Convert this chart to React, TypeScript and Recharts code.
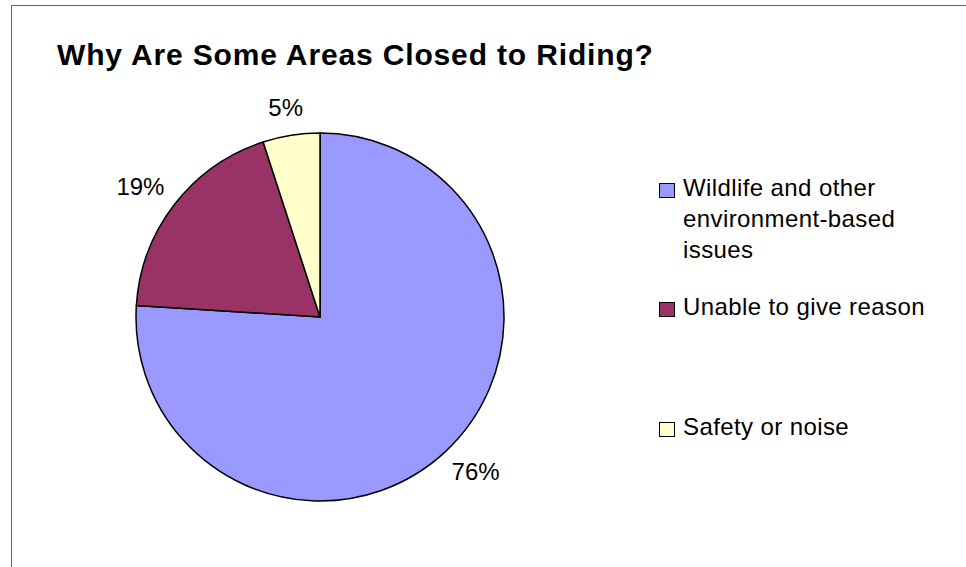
import React from 'react';
import { PieChart, Pie, Cell, Legend } from 'recharts';

// Reasons areas are closed to riding (share of answers, %)
const categories = ['Wildlife and other environment-based issues', 'Unable to give reason', 'Safety or noise'];
const shares = [76, 19, 5];
const sliceColors = ['#9999FF', '#993366', '#FFFFCC'];

const data = categories.map((name, i) => ({ name, value: shares[i] }));

const FONT = '"Liberation Sans", Arial, Helvetica, sans-serif';
const RAD = Math.PI / 180;

// percentage labels sit just outside the rim; the text box is pushed out so its inner edge clears the pie
const renderLabel = ({ cx, cy, midAngle, outerRadius, value }: any) => {
  const text = `${value}%`;
  const w = text.length * 15.5;
  const h = 17;
  const ux = Math.cos(-midAngle * RAD);
  const uy = Math.sin(-midAngle * RAD);
  const r = outerRadius + 20;
  const x = cx + r * ux + (w / 2) * ux;
  const y = cy + r * uy + (h / 2) * uy;
  return (
    <text
      x={x}
      y={y}
      textAnchor="middle"
      dominantBaseline="central"
      fill="#000"
      style={{ fontFamily: FONT, fontSize: 24 }}
    >
      {text}
    </text>
  );
};

const renderLegend = ({ payload }: any) => {
  const rowTops = [172, 291, 411];
  const items = [...(payload || [])].sort(
    (a: any, b: any) => categories.indexOf(a.value) - categories.indexOf(b.value)
  );
  return (
    <div style={{ position: 'relative', width: 290, height: 460 }}>
      {items.map((entry: any, i: number) => (
        <div
          key={entry.value}
          style={{ position: 'absolute', left: 0, top: rowTops[i], display: 'flex', alignItems: 'flex-start' }}
        >
          <div
            style={{
              width: 16,
              height: 15,
              marginTop: 11,
              boxSizing: 'border-box',
              border: '1.5px solid #000',
              background: entry.color,
            }}
          />
          <div
            style={{
              marginLeft: 8,
              width: 255,
              fontFamily: FONT,
              fontSize: 24,
              lineHeight: '31px',
              letterSpacing: 0.4,
              color: '#000',
            }}
          >
            {entry.value}
          </div>
        </div>
      ))}
    </div>
  );
};

export default function App() {
  return (
    <div style={{ position: 'absolute', left: 0, top: 0, width: 966, height: 567, background: '#fff', overflow: 'hidden' }}>
      <div
        style={{
          position: 'absolute',
          left: 11,
          top: 5,
          width: 955,
          height: 562,
          boxSizing: 'border-box',
          borderLeft: '1px solid #666',
          borderTop: '1px solid #666',
        }}
      />
      <div
        style={{
          position: 'absolute',
          left: 57,
          top: 40,
          fontFamily: FONT,
          fontWeight: 'bold',
          fontSize: 30,
          lineHeight: '30px',
          letterSpacing: 0.85,
          color: '#000',
          whiteSpace: 'nowrap',
        }}
      >
        Why Are Some Areas Closed to Riding?
      </div>
      <div style={{ position: 'absolute', left: 0, top: 0 }}>
        <PieChart width={966} height={567} margin={{ top: 0, right: 0, bottom: 0, left: 0 }}>
          <Pie
            data={data}
            dataKey="value"
            nameKey="name"
            cx={320}
            cy={317}
            outerRadius={184}
            startAngle={90}
            endAngle={-270}
            stroke="#000"
            strokeWidth={1.5}
            label={renderLabel}
            labelLine={false}
            isAnimationActive={false}
          >
            {data.map((d, i) => (
              <Cell key={d.name} fill={sliceColors[i]} />
            ))}
          </Pie>
          <Legend
            content={renderLegend}
            wrapperStyle={{ position: 'absolute', left: 659, top: 0, width: 290 }}
          />
        </PieChart>
      </div>
    </div>
  );
}
